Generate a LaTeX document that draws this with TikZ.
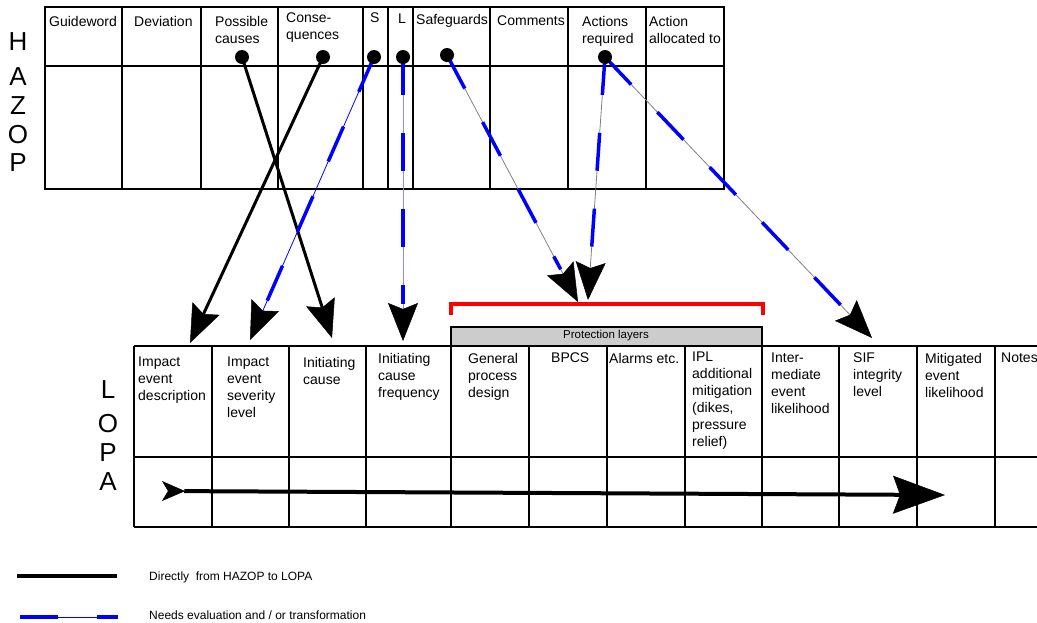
\documentclass[tikz,border=0pt]{standalone}
\usepackage{fontspec}
\setmainfont{Liberation Sans}
\usetikzlibrary{arrows.meta}
\begin{document}
\begin{tikzpicture}[x=1pt,y=-1pt,
  tl/.style={line width=1.2pt},
  hd/.style={anchor=north west, inner sep=0pt, align=left, font=\fontsize{14}{17}\selectfont},
  side/.style={inner sep=0pt, font=\fontsize{26}{26}\selectfont},
  dot/.style={circle, fill=black, minimum size=14pt, inner sep=0pt},
  bigtip/.style={-{Stealth[length=38pt,width=30pt,inset=6pt,line width=0.5pt,color=black,fill=black]}},
  solidarrow/.style={line width=3pt, bigtip},
  thinline/.style={line width=0.8pt, bigtip},
  bluedash/.style={line width=3.5pt, blue, dash pattern=on 38pt off 38pt, shorten >=37pt},
  legtext/.style={anchor=west, inner sep=0pt, font=\fontsize{12}{14}\selectfont},
]
\useasboundingbox (0,0) rectangle (1037,622);
\clip (0,0) rectangle (1037,622);

% ---------------- HAZOP table ----------------
\draw[tl] (45,7) rectangle (724,189);
\draw[line width=2pt] (45,7) -- (724,7);
\draw[tl] (45,66) -- (724,66);
\foreach \x in {122,201,278,388,413,490,568,646} \draw[tl] (\x,7) -- (\x,189);
\draw[line width=2.6pt] (363,7) -- (363,189);

\node[hd] (hG) at (49,16) {Guideword};
\node[hd] (hD) at (134,16) {Deviation};
\node[hd] (hP) at (215,16) {Possible\\causes};
\node[hd] (hC) at (286,13) {Conse-\\quences};
\node[hd] (hS) at (370,13) {S};
\node[hd] (hL) at (398,14) {L};
\node[hd] (hSG) at (416,14) {Safeguards};
\node[hd] (hCo) at (497,16) {Comments};
\node[hd] (hA) at (582,16) {Actions\\required};
\node[hd] (hAA) at (649,16) {Action\\allocated to};

\node[side] (zH) at (18,42) {H};
\node[side] (zA) at (18,77) {A};
\node[side] (zZ) at (18,106) {Z};
\node[side] (zO) at (18,134.5) {O};
\node[side] (zP) at (18,163) {P};

% ---------------- LOPA table ----------------
\draw[tl] (134,346) -- (1040,346);
\draw[tl] (134,457) -- (1040,457);
\draw[tl] (134,527) -- (1040,527);
\foreach \x in {134,212,289,366,451,529,607,685,762,839,917,995} \draw[tl] (\x,346) -- (\x,527);
\draw[tl, fill=black!20] (451,327) rectangle (762,346);
\node[inner sep=0pt, font=\fontsize{11.5}{13}\selectfont] (pl) at (606,336) {Protection layers};

\node[hd] (l1) at (138,357) {Impact\\event\\description};
\node[hd] (l2) at (227,357) {Impact\\event\\severity\\level};
\node[hd] (l3) at (303,357) {Initiating\\cause};
\node[hd] (l4) at (378,353) {Initiating\\cause\\frequency};
\node[hd] (l5) at (468,353) {General\\process\\design};
\node[hd] (l6) at (551,353) {BPCS};
\node[hd] (l7) at (609,353) {Alarms etc.};
\node[hd] (l8) at (692,352) {IPL\\additional\\mitigation\\(dikes,\\pressure\\relief)};
\node[hd] (l9) at (771,353) {Inter-\\mediate\\event\\likelihood};
\node[hd] (l10) at (853,353) {SIF\\integrity\\level};
\node[hd] (l11) at (925,353) {Mitigated\\event\\likelihood};
\node[hd] (l12) at (1001,353) {Notes};

\node[side] (yL) at (108,390) {L};
\node[side] (yO) at (108,424) {O};
\node[side] (yP) at (108,453) {P};
\node[side] (yA) at (108,482) {A};

% red bracket
\draw[red, line width=4pt] (451,315) -- (451,304) -- (763,304) -- (763,315);

% LOPA flow arrow
\coordinate (la) at (162,491);
\coordinate (lb) at (945,495);
\draw[line width=4pt, {Stealth[reversed,length=23pt,width=20pt,inset=6pt,line width=0.5pt]}-{Stealth[length=52pt,width=38pt,inset=7pt,line width=0.5pt]}] (la) -- (lb);

% ---------------- connectors ----------------
\coordinate (sPC) at (242,57);
\coordinate (sCQ) at (323,57);
\coordinate (sS) at (374,57);
\coordinate (sL) at (403,57);
\coordinate (sSG) at (447,55);
\coordinate (sAR) at (605,57);

\coordinate (tIED) at (190,343);
\coordinate (tIES) at (250,340);
\coordinate (tIC) at (332,338);
\coordinate (tICF) at (403,341);
\coordinate (tPL1) at (578,302);
\coordinate (tPL2) at (588,300);
\coordinate (tSIF) at (872,338);

\draw[solidarrow] (sPC) -- (tIC);
\draw[solidarrow] (sCQ) -- (tIED);

\draw[thinline, blue] (sS) -- (tIES);
\draw[bluedash] (sS) -- (tIES);
\draw[thinline, blue!45] (sL) -- (tICF);
\draw[bluedash] (sL) -- (tICF);
\draw[thinline, gray] (sSG) -- (tPL1);
\draw[bluedash] (sSG) -- (tPL1);
\draw[thinline, gray] (sAR) -- (tPL2);
\draw[bluedash] (sAR) -- (tPL2);
\draw[thinline, gray] (sAR) -- (tSIF);
\draw[bluedash] (sAR) -- (tSIF);

\node[dot] (dPC) at (sPC) {};
\node[dot] (dCQ) at (sCQ) {};
\node[dot] (dS) at (sS) {};
\node[dot] (dL) at (sL) {};
\node[dot] (dSG) at (sSG) {};
\node[dot] (dAR) at (sAR) {};

% ---------------- legend ----------------
\coordinate (k1a) at (17,576);
\coordinate (k1b) at (117,576);
\draw[line width=4pt] (k1a) -- (k1b);
\coordinate (k2a) at (20,617);
\coordinate (k2m1) at (58,617);
\coordinate (k2m2) at (97,617);
\coordinate (k2b) at (118,617);
\draw[blue, line width=1pt] (k2a) -- (k2b);
\draw[blue, line width=3.5pt] (k2a) -- (k2m1);
\draw[blue, line width=3.5pt] (k2m2) -- (k2b);
\node[legtext] (t1) at (149,577) {Directly\ \ from HAZOP to LOPA};
\node[legtext] (t2) at (149,615) {Needs evaluation and / or transformation};
\end{tikzpicture}
\end{document}
